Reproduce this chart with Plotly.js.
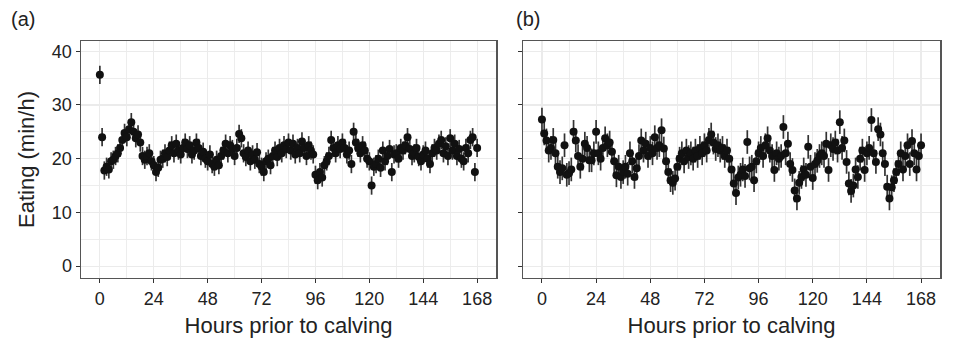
<!DOCTYPE html>
<html><head><meta charset="utf-8">
<script src="https://cdn.plot.ly/plotly-3.0.1.min.js"></script>
<style>html,body{margin:0;padding:0;background:#fff}#chart{width:962px;height:340px}</style>
</head><body><div id="chart"></div>
<script>
// hours prior to calving 0..168
const hours = Array.from({length:169},(_,i)=>i);
const xTicks = [0,24,48,72,96,120,144,168];
const yTicks = [0,10,20,30,40];
const panelLabels = ["(a)","(b)"];
const xTitle = "Hours prior to calving";
const yTitle = "Eating (min/h)";
// panel (a) eating min/h
const eatA = [
35.6,24.0,17.8,18.5,18.0,19.5,19.8,20.5,21.0,22.0,23.5,24.8,
24.0,25.5,26.8,25.0,23.8,24.5,23.0,20.5,19.8,20.5,21.0,19.5,
18.8,17.5,18.3,19.8,20.0,21.0,20.3,21.5,22.5,21.0,22.8,21.5,
20.8,22.0,23.0,21.8,22.5,20.8,21.5,23.0,22.0,20.5,21.3,20.0,
19.5,20.8,19.0,18.5,19.8,18.8,20.5,21.5,22.8,21.0,22.5,21.8,
20.5,22.0,24.6,23.8,21.0,20.3,21.5,19.5,20.8,19.8,21.2,19.0,
18.5,17.5,19.5,20.0,18.8,20.5,21.5,20.3,22.0,21.0,22.5,21.8,
23.0,21.5,22.8,20.8,22.0,21.0,23.2,22.0,20.5,22.5,21.5,20.8,
17.0,16.0,17.5,16.5,18.8,19.5,20.5,23.5,22.0,21.0,22.5,21.8,
23.0,22.0,20.8,21.5,19.0,25.0,23.0,22.0,21.0,22.5,21.5,20.0,
19.5,15.0,18.5,19.0,20.0,18.3,21.5,19.5,20.5,21.8,17.5,20.8,
21.0,20.0,22.0,21.5,22.5,24.0,21.8,20.5,21.0,22.0,20.3,19.5,
20.8,21.5,20.0,19.0,21.0,22.0,21.5,22.8,23.5,21.0,22.3,20.5,
23.8,21.5,22.8,20.5,21.8,20.0,19.5,22.0,21.0,23.5,24.0,17.5,
22.0];
// panel (b) eating min/h
const eatB = [
27.3,24.7,23.4,21.5,22.0,23.5,21.0,18.5,17.5,18.2,22.5,17.0,
17.3,18.0,25.0,23.4,20.5,18.5,20.0,22.8,22.0,19.7,19.7,21.0,
25.0,21.0,20.0,22.0,23.8,22.5,23.0,21.3,19.5,16.9,18.5,16.6,
17.5,18.5,17.2,21.0,19.5,16.6,18.2,20.5,23.4,21.5,22.8,20.5,
22.0,21.0,24.0,22.0,22.5,25.3,21.9,19.5,17.5,16.0,15.5,16.3,
18.5,20.0,21.0,19.5,21.5,20.3,21.0,20.0,21.5,20.5,22.0,21.0,
22.5,21.5,23.5,24.5,23.0,21.8,22.5,21.5,22.0,20.5,21.5,20.0,
18.0,15.4,13.6,16.5,17.0,18.0,16.8,23.1,18.2,18.5,16.0,19.5,
21.0,22.0,20.5,22.5,23.8,21.5,20.5,17.9,21.0,20.0,20.5,25.9,
21.0,22.8,19.0,17.9,14.1,12.6,15.5,16.6,18.0,17.0,22.2,18.5,
16.4,19.0,19.6,20.5,21.0,20.5,22.8,17.9,22.5,21.8,23.0,21.5,
26.8,22.0,23.4,19.4,15.4,14.0,15.0,18.0,16.6,20.0,21.5,17.9,
21.0,22.0,27.2,21.0,19.4,25.5,24.5,21.0,19.0,14.8,12.6,14.7,
16.0,17.5,19.0,21.0,18.0,20.5,22.5,19.0,23.3,21.0,18.0,20.5,
22.5];
// standard errors (approximate, per panel)
const seA = 1.7;
const seB = 2.2;

const FONT = "Liberation Sans, Arial, sans-serif";
const grid = "#ebebeb";
function trace(y, se, xa, ya){
  return {x: hours, y: y, xaxis: xa, yaxis: ya, type:'scatter', mode:'markers',
    marker:{size:8, color:'#111'},
    error_y:{type:'constant', value: se, width:0, thickness:1.7, color:'#333'},
    hoverinfo:'x+y', showlegend:false};
}
function xax(domain, anchor){
  return {domain: domain, anchor: anchor, range:[-8.4,176.4], tickvals: xTicks, ticktext: xTicks.map(String),
    ticks:'outside', ticklen:4, tickcolor:'#333', tickwidth:1,
    showline:true, mirror:true, linecolor:'#555', linewidth:1.5,
    showgrid:true, gridcolor:grid, gridwidth:1.2, zeroline:false,
    minor:{dtick:12, tick0:0, showgrid:true, gridcolor:grid, gridwidth:0.9},
    tickfont:{family:FONT, size:18, color:'#222'},
    title:{text:xTitle, font:{family:FONT, size:22, color:'#222'}, standoff:9}, automargin:false};
}
function yax(anchor, labels){
  return {domain:[0.1824,0.8794], anchor: anchor, range:[-2.2,41.9], tickvals: yTicks,
    ticktext: yTicks.map(String), showticklabels: labels,
    ticks:'outside', ticklen:4, tickcolor:'#333', tickwidth:1,
    showline:true, mirror:true, linecolor:'#555', linewidth:1.5,
    showgrid:true, gridcolor:grid, gridwidth:1.2, zeroline:false,
    minor:{dtick:5, tick0:0, showgrid:true, gridcolor:grid, gridwidth:0.9},
    tickfont:{family:FONT, size:18, color:'#222'},
    title: labels ? {text:yTitle, font:{family:FONT, size:22, color:'#222'}, standoff:11} : {text:''},
    automargin:false};
}
const data = [trace(eatA, seA, 'x','y'), trace(eatB, seB, 'x2','y2')];
const layout = {
  width:962, height:340, margin:{l:0,r:0,t:0,b:0},
  paper_bgcolor:'#fff', plot_bgcolor:'#fff',
  font:{family:FONT, color:'#222'},
  xaxis: xax([81/962, 496/962], 'y'),
  yaxis: yax('x', true),
  xaxis2: xax([523/962, 940/962], 'y2'),
  yaxis2: yax('x2', false),
  annotations:[
    {text:panelLabels[0], xref:'paper', yref:'paper', x:9/962, y:1-19/340, xanchor:'left', yanchor:'middle', showarrow:false, font:{family:FONT,size:20,color:'#222'}},
    {text:panelLabels[1], xref:'paper', yref:'paper', x:514/962, y:1-19/340, xanchor:'left', yanchor:'middle', showarrow:false, font:{family:FONT,size:20,color:'#222'}}
  ]
};
Plotly.newPlot('chart', data, layout, {displayModeBar:false, staticPlot:true});
</script></body></html>
